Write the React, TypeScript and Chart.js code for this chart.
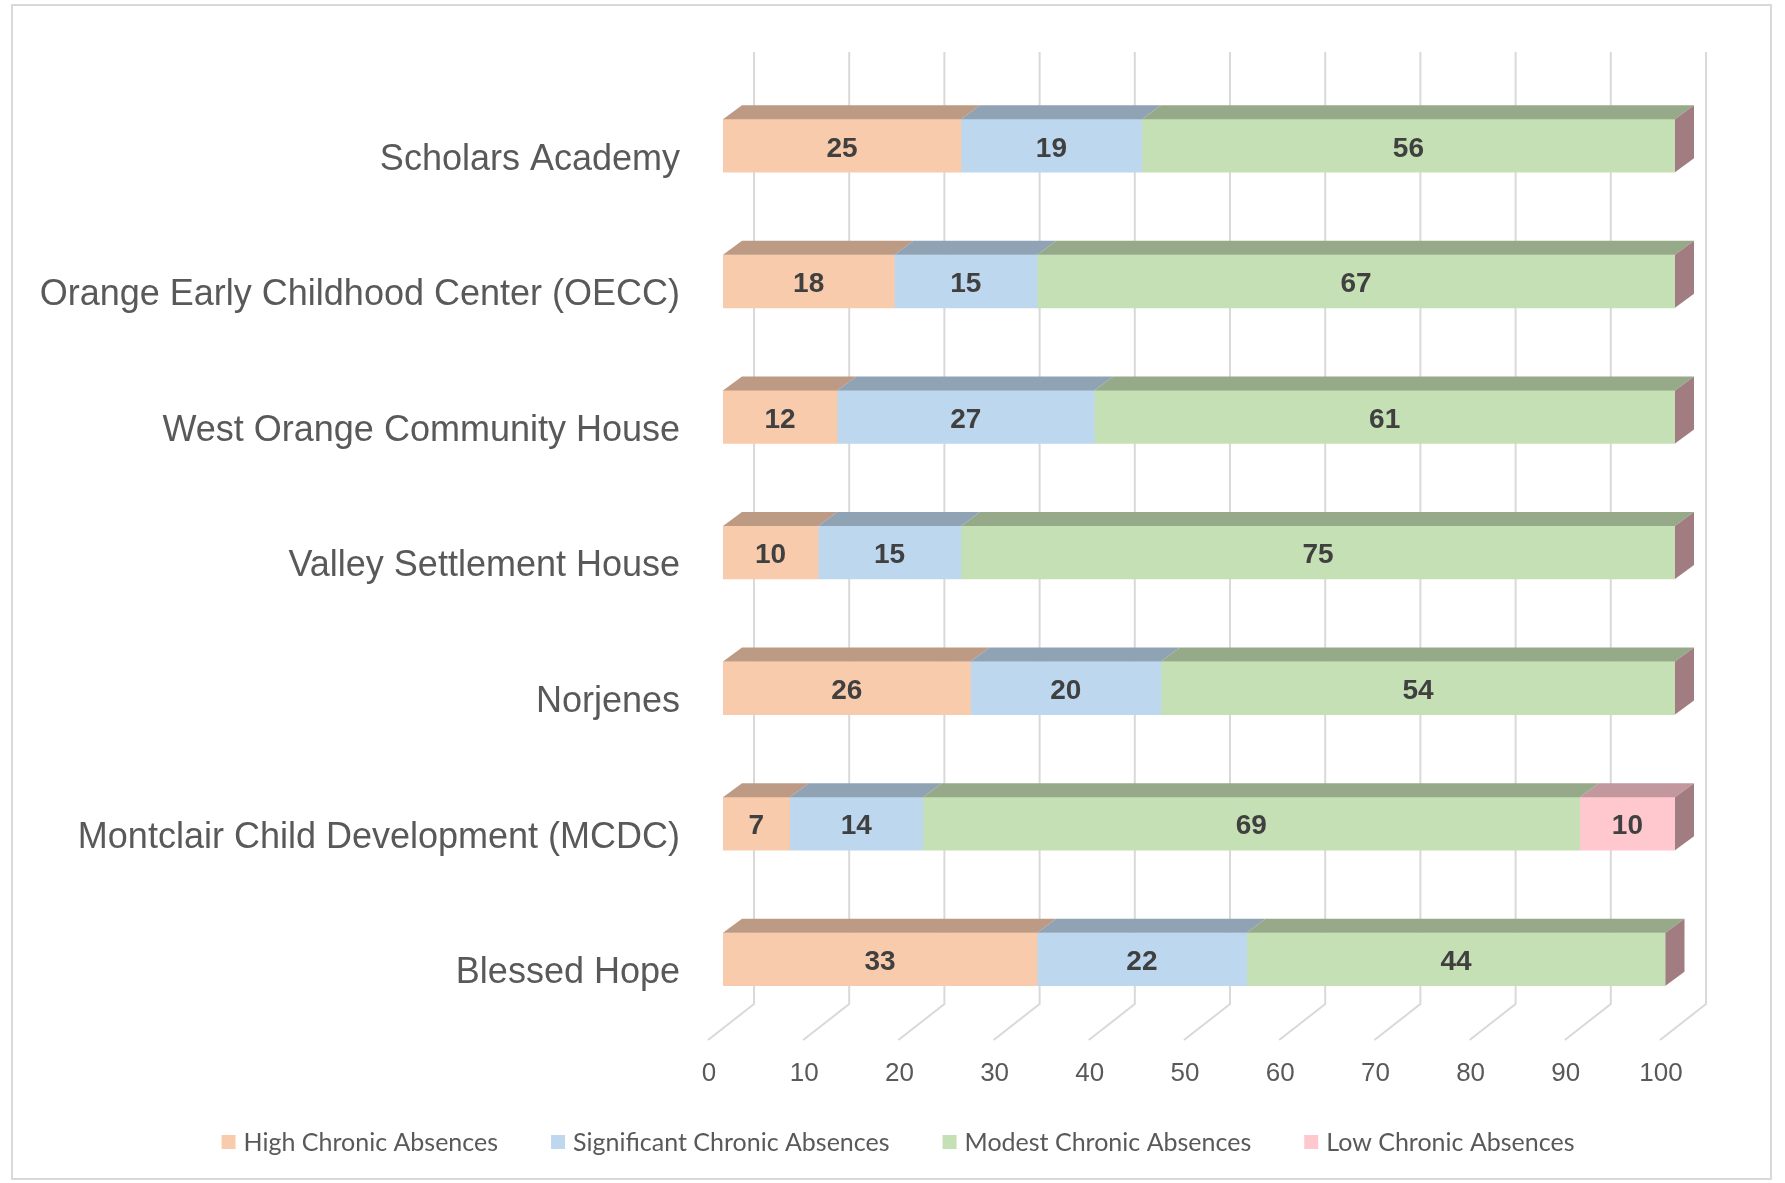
import React, { useEffect, useRef } from "react";
import { Chart, registerables } from "chart.js";

Chart.register(...registerables);

// ---------- data ----------
const categories = [
  "Scholars Academy",
  "Orange Early Childhood Center (OECC)",
  "West Orange Community House",
  "Valley Settlement House",
  "Norjenes",
  "Montclair Child Development (MCDC)",
  "Blessed Hope",
];
const highChronic = [25, 18, 12, 10, 26, 7, 33];
const significantChronic = [19, 15, 27, 15, 20, 14, 22];
const modestChronic = [56, 67, 61, 75, 54, 69, 44];
const lowChronic = [0, 0, 0, 0, 0, 10, 0];
const seriesNames = [
  "High Chronic Absences",
  "Significant Chronic Absences",
  "Modest Chronic Absences",
  "Low Chronic Absences",
];
const xTickValues = [0, 10, 20, 30, 40, 50, 60, 70, 80, 90, 100];

// ---------- styles ----------
const frontColors = ["#F8CBAD", "#BDD7EE", "#C5E0B4", "#FFC7CE"];
const TOP_SHADE = 0.76;
const SIDE_SHADE = 0.63;
const GRID_COLOR = "#D9D9D9";
const TEXT_COLOR = "#595959";
const LABEL_COLOR = "#404040";
const SANS = '"Liberation Sans", Arial, sans-serif';
const LEGEND_FONT = 'Lato, "Open Sans", sans-serif';

// 3D projection offsets (pixels)
const BAR_DX = 19;
const BAR_DY = 14;
const BACK_DX = 31;
const BACK_DY = 23;
const FLOOR_FRONT_DX = -15;
const FLOOR_FRONT_DY = 13;
const WALL_TOP_ABOVE = 26;

function shade(hex: string, f: number): string {
  const n = parseInt(hex.slice(1), 16);
  const r = Math.round(((n >> 16) & 255) * f);
  const g = Math.round(((n >> 8) & 255) * f);
  const b = Math.round((n & 255) * f);
  return `rgb(${r},${g},${b})`;
}

const threeDPlugin = {
  id: "threeD",
  beforeDraw(chart: any) {
    const ctx = chart.ctx;
    ctx.save();
    ctx.fillStyle = "#ffffff";
    ctx.fillRect(0, 0, chart.width, chart.height);
    ctx.strokeStyle = GRID_COLOR;
    ctx.lineWidth = 2;
    ctx.strokeRect(12, 5, 1759, 1174);
    ctx.restore();
  },
  beforeDatasetsDraw(chart: any) {
    const ctx = chart.ctx;
    const xs = chart.scales.x;
    const area = chart.chartArea;
    ctx.save();
    ctx.strokeStyle = GRID_COLOR;
    ctx.lineWidth = 2;
    xTickValues.forEach((v) => {
      const x = xs.getPixelForValue(v);
      ctx.beginPath();
      ctx.moveTo(x + FLOOR_FRONT_DX, area.bottom + FLOOR_FRONT_DY);
      ctx.lineTo(x + BACK_DX, area.bottom - BACK_DY);
      ctx.lineTo(x + BACK_DX, area.top - WALL_TOP_ABOVE);
      ctx.stroke();
    });
    ctx.restore();
  },
  afterDatasetsDraw(chart: any) {
    const ctx = chart.ctx;
    const n = chart.data.datasets.length;
    ctx.save();
    for (let i = 0; i < chart.data.labels.length; i++) {
      // top faces
      for (let d = 0; d < n; d++) {
        const bar = chart.getDatasetMeta(d).data[i];
        const l = Math.min(bar.base, bar.x);
        const r = Math.max(bar.base, bar.x);
        if (r - l < 0.5) continue;
        const top = bar.y - bar.height / 2;
        ctx.fillStyle = shade(frontColors[d], TOP_SHADE);
        ctx.beginPath();
        ctx.moveTo(l, top);
        ctx.lineTo(r, top);
        ctx.lineTo(r + BAR_DX, top - BAR_DY);
        ctx.lineTo(l + BAR_DX, top - BAR_DY);
        ctx.closePath();
        ctx.fill();
      }
      // right side face at the end of the stack
      const last = chart.getDatasetMeta(n - 1).data[i];
      const xe = Math.max(last.base, last.x);
      const top = last.y - last.height / 2;
      const bottom = last.y + last.height / 2;
      ctx.fillStyle = shade(frontColors[n - 1], SIDE_SHADE);
      ctx.beginPath();
      ctx.moveTo(xe, top);
      ctx.lineTo(xe + BAR_DX, top - BAR_DY);
      ctx.lineTo(xe + BAR_DX, bottom - BAR_DY);
      ctx.lineTo(xe, bottom);
      ctx.closePath();
      ctx.fill();
    }
    // data labels
    ctx.fillStyle = LABEL_COLOR;
    ctx.font = `bold 28px ${SANS}`;
    ctx.textAlign = "center";
    ctx.textBaseline = "middle";
    for (let d = 0; d < n; d++) {
      const meta = chart.getDatasetMeta(d);
      const vals = chart.data.datasets[d].data;
      meta.data.forEach((bar: any, i: number) => {
        if (!vals[i]) return;
        ctx.fillText(String(vals[i]), (bar.base + bar.x) / 2, bar.y + 3);
      });
    }
    ctx.restore();
  },
  afterDraw(chart: any) {
    const ctx = chart.ctx;
    const ds = chart.data.datasets;
    ctx.save();
    ctx.font = `25px ${LEGEND_FONT}`;
    ctx.textBaseline = "middle";
    ctx.textAlign = "left";
    const box = 14;
    const gapText = 8;
    const gapItem = 53;
    const widths = ds.map((d: any) => box + gapText + ctx.measureText(d.label).width);
    const total = widths.reduce((a: number, b: number) => a + b, 0) + gapItem * (ds.length - 1);
    let x = 898 - total / 2;
    const y = 1142;
    ds.forEach((d: any, k: number) => {
      ctx.fillStyle = d.backgroundColor;
      ctx.fillRect(x, y - box / 2, box, box);
      ctx.fillStyle = TEXT_COLOR;
      ctx.fillText(d.label, x + box + gapText, y + 1);
      x += widths[k] + gapItem;
    });
    ctx.restore();
  },
};

export default function App() {
  const canvasRef = useRef<HTMLCanvasElement | null>(null);

  useEffect(() => {
    const canvas = canvasRef.current;
    if (!canvas) return;
    const seriesValues = [highChronic, significantChronic, modestChronic, lowChronic];
    const chart = new Chart(canvas, {
      type: "bar",
      data: {
        labels: categories,
        datasets: seriesValues.map((vals, k) => ({
          label: seriesNames[k],
          data: vals,
          backgroundColor: frontColors[k],
          borderWidth: 0,
          barThickness: 53,
        })),
      },
      options: {
        indexAxis: "y",
        responsive: false,
        animation: false,
        devicePixelRatio: 1,
        layout: { padding: { top: 78, right: 110, bottom: 0, left: 0 } },
        plugins: {
          legend: { display: false },
          tooltip: { enabled: false },
          title: { display: false },
        },
        scales: {
          x: {
            type: "linear",
            position: "bottom",
            stacked: true,
            min: 0,
            max: 100,
            grid: { display: false },
            border: { display: false },
            ticks: {
              stepSize: 10,
              color: TEXT_COLOR,
              font: { family: SANS, size: 26 },
              padding: 23,
              labelOffset: -14,
              maxRotation: 0,
            },
            afterFit: (s: any) => {
              s.height = 156;
            },
          },
          y: {
            type: "category",
            stacked: true,
            grid: { display: false },
            border: { display: false },
            ticks: {
              color: TEXT_COLOR,
              font: { family: SANS, size: 36 },
              padding: 35,
              labelOffset: 14,
              autoSkip: false,
            },
            afterFit: (s: any) => {
              s.width = 723;
            },
          },
        },
      } as any,
      plugins: [threeDPlugin],
    });
    return () => chart.destroy();
  }, []);

  return (
    <div style={{ position: "fixed", left: 0, top: 0, width: 1785, height: 1183 }}>
      <canvas ref={canvasRef} width={1785} height={1183} style={{ display: "block" }} />
    </div>
  );
}
